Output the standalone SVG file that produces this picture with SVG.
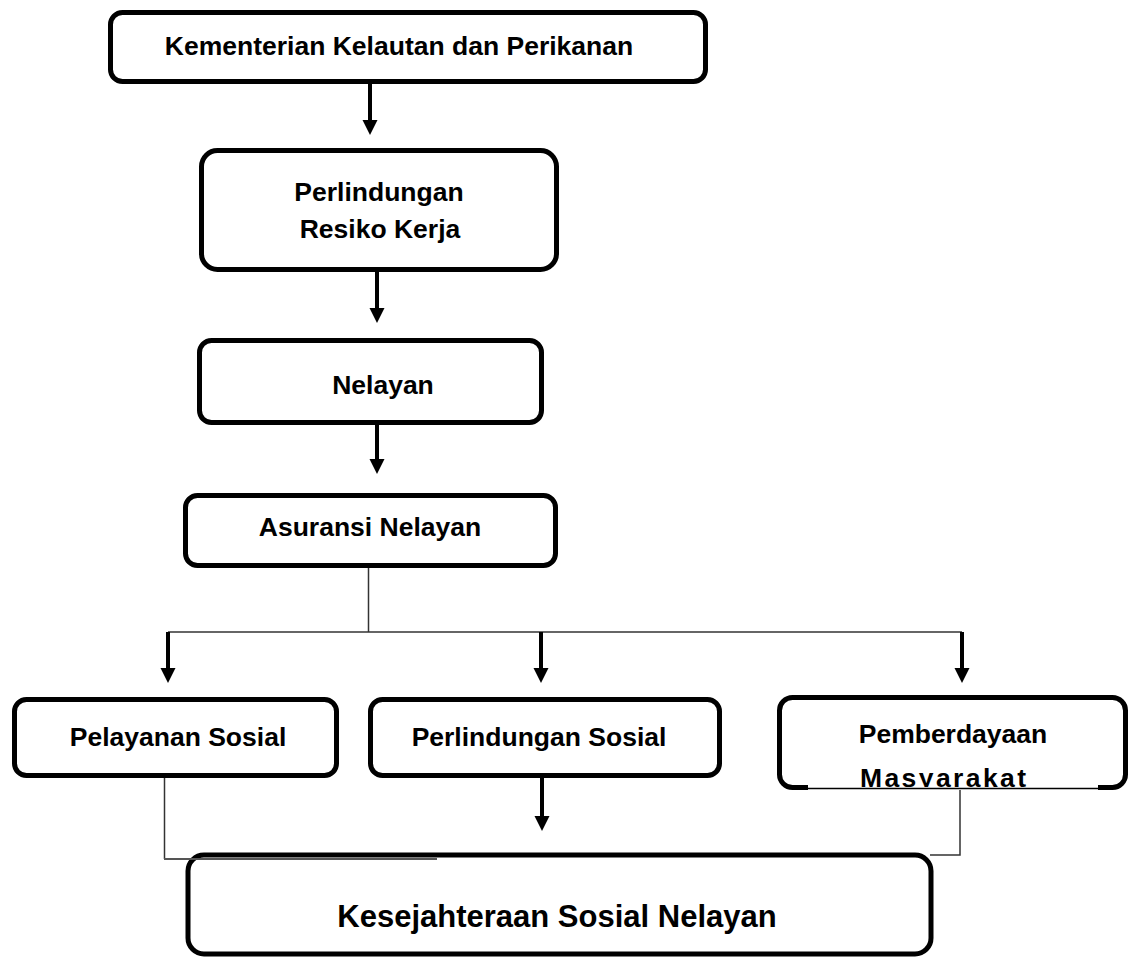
<svg xmlns="http://www.w3.org/2000/svg" width="1129" height="958" viewBox="0 0 1129 958">
<style>
.box{fill:#fff;stroke:#000;stroke-width:5}
.t{font-family:"Liberation Sans",Arial,sans-serif;font-weight:bold;font-size:26.5px;fill:#000;text-anchor:middle}
.big{font-size:31px}
.arr{stroke:#000;stroke-width:4;fill:none}
.thin{stroke:#333;stroke-width:1.5;fill:none}
.head{fill:#000}
</style>
<defs>
<clipPath id="clipM"><rect x="780" y="700" width="345" height="87"/></clipPath>
</defs>
<rect width="1129" height="958" fill="#fff"/>
<g id="n1"><rect class="box" x="110.5" y="12.5" width="595" height="69" rx="12"/><text class="t" x="399" y="55">Kementerian Kelautan dan Perikanan</text></g>
<g id="n2"><rect class="box" x="201.5" y="150.5" width="355" height="119" rx="16"/><text class="t" x="379" y="201">Perlindungan</text><text class="t" x="380" y="238">Resiko Kerja</text></g>
<g id="n3"><rect class="box" x="199.5" y="340.5" width="342" height="82" rx="12"/><text class="t" x="383" y="394">Nelayan</text></g>
<g id="n4"><rect class="box" x="185.5" y="495.5" width="370" height="70" rx="12"/><text class="t" x="370" y="536">Asuransi Nelayan</text></g>
<g id="n5"><rect class="box" x="14.5" y="699.5" width="322" height="76" rx="12"/><text class="t" x="178" y="746">Pelayanan Sosial</text></g>
<g id="n6"><rect class="box" x="370.5" y="699.5" width="349" height="76" rx="12"/><text class="t" x="539" y="746">Perlindungan Sosial</text></g>
<g id="n7">
<rect x="779.5" y="697.5" width="346" height="90" rx="13" fill="#fff"/>
<path d="M808,787.5 H792.5 A13,13 0 0 1 779.5,774.5 V710.5 A13,13 0 0 1 792.5,697.5 H1112.5 A13,13 0 0 1 1125.5,710.5 V774.5 A13,13 0 0 1 1112.5,787.5 H1098" fill="none" stroke="#000" stroke-width="5"/>
<line x1="808" y1="788.5" x2="1098" y2="788.5" stroke="#000" stroke-width="1.5"/>
<text class="t" x="953" y="743">Pemberdayaan</text>
<text class="t" x="943" y="787" textLength="166" clip-path="url(#clipM)">Masyarakat</text>
</g>
<g id="n8"><rect class="box" x="188" y="855" width="743" height="99" rx="16" stroke-width="6"/><text class="t big" x="557" y="927">Kesejahteraan Sosial Nelayan</text></g>
<g id="connectors">
<line class="arr" x1="370" y1="84" x2="370" y2="122"/>
<polygon class="head" points="362.5,120 377.5,120 370,135"/>
<line class="arr" x1="377" y1="272" x2="377" y2="310"/>
<polygon class="head" points="369.5,308 384.5,308 377,323"/>
<line class="arr" x1="377" y1="425" x2="377" y2="461"/>
<polygon class="head" points="369.5,459 384.5,459 377,474"/>
<line class="thin" x1="368.5" y1="568" x2="368.5" y2="632"/>
<line class="thin" x1="168" y1="632" x2="962" y2="632"/>
<line class="arr" x1="168" y1="632" x2="168" y2="670"/>
<polygon class="head" points="160.5,668 175.5,668 168,683"/>
<line class="arr" x1="541" y1="632" x2="541" y2="670"/>
<polygon class="head" points="533.5,668 548.5,668 541,683"/>
<line class="arr" x1="962" y1="632" x2="962" y2="670"/>
<polygon class="head" points="954.5,668 969.5,668 962,683"/>
<line class="arr" x1="542" y1="778" x2="542" y2="818"/>
<polygon class="head" points="534.5,816 549.5,816 542,831"/>
<polyline class="thin" points="164.5,778 164.5,859"/>
<line stroke="#555" stroke-width="2" x1="164" y1="859" x2="437" y2="859"/>
<polyline class="thin" points="960,790 960,855 930,855"/>
</g>
</svg>
